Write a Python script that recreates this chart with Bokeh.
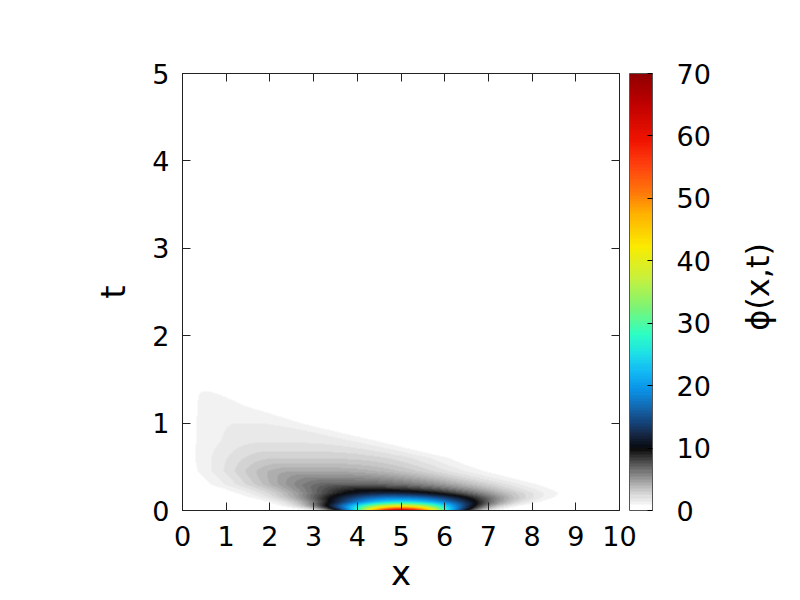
import numpy as np
from bokeh.plotting import figure
from bokeh.layouts import row
from bokeh.models import (LinearColorMapper, ColorBar, FixedTicker, Range1d,
                          LinearAxis, Label)
from bokeh.embed import file_html
from bokeh.resources import INLINE

# ---- values: profile of phi(x,t) along rows of t ----
t_rows      = [0.0, 0.05, 0.10, 0.15, 0.20, 0.25, 0.30, 0.45, 0.60, 0.80, 1.00, 1.20, 1.35, 1.50, 1.70, 5.0]
peak        = [68.0, 42.0, 25.0, 17.5, 12.0, 9.0, 7.0, 4.5, 3.0, 1.9, 1.5, 1.15, 1.02, 0.85, 0.6, 0.01]
center      = [5.0, 5.0, 5.0, 4.9, 4.7, 4.2, 3.6, 2.6, 2.2, 1.8, 1.3, 0.8, 0.55, 0.45, 0.4, 0.4]
width_left  = [0.74, 1.0, 1.2, 1.4, 1.55, 1.55, 1.5, 1.3, 1.3, 1.32, 1.1, 0.9, 0.8, 0.8, 0.8, 0.8]
width_right = [0.76, 0.98, 1.25, 1.5, 1.75, 2.2, 2.7, 2.98, 3.2, 2.44, 1.48, 0.92, 0.8, 0.8, 0.8, 0.8]
shape_right = [2.0, 2.0, 2.0, 2.0, 2.0, 2.3, 2.66, 3.0, 4.0, 4.0, 4.0, 3.0, 2.0, 2.0, 2.0, 2.0]
wall_scale  = 0.08

x_ticks   = [0, 1, 2, 3, 4, 5, 6, 7, 8, 9, 10]
t_ticks   = [0, 1, 2, 3, 4, 5]
phi_ticks = [0, 10, 20, 30, 40, 50, 60, 70]

# ---- build the field on a grid ----
nx, nt = 437, 437
xs = (np.arange(nx) + 0.5) / nx * 10.0
ts = (np.arange(nt) + 0.5) / nt * 5.0
A  = np.exp(np.interp(ts, t_rows, np.log(peak)))[:, None]
C  = np.interp(ts, t_rows, center)[:, None]
SL = np.interp(ts, t_rows, width_left)[:, None]
SR = np.interp(ts, t_rows, width_right)[:, None]
PR = np.interp(ts, t_rows, shape_right)[:, None]
X = xs[None, :]
D = X - C
left_part = A * np.exp(-0.5 * (D / SL) ** 2)
right_part = A * np.exp(-0.5 * (np.abs(D) / SR) ** PR)
phi = np.where(D < 0, left_part, right_part) * (1.0 - np.exp(-X / wall_scale))

# ---- palette (gnuplot-like: white->gray->black->blue->cyan->green->yellow->red) ----
def hx(r, g, b):
    return "#%02x%02x%02x" % (int(round(r)), int(round(g)), int(round(b)))

anchors = [(10, (10, 14, 22)), (12, (22, 40, 70)), (14, (20, 70, 125)),
           (16, (20, 100, 170)), (19, (10, 145, 230)), (22, (18, 185, 245)),
           (25, (30, 225, 230)), (28, (45, 255, 195)), (32, (120, 245, 120)),
           (37, (200, 240, 60)), (42, (250, 235, 0)), (47, (255, 180, 0)),
           (51, (255, 115, 10)), (55, (255, 65, 15)), (59, (240, 20, 0)),
           (65, (190, 0, 0)), (70, (140, 0, 0))]
av = [a[0] for a in anchors]
palette = []
for i in range(140):
    v = i * 0.5
    if v < 1:
        palette.append("#ffffff")
    elif v < 10:
        g = 242 * (1 - ((v - 1) / 9.0) ** 1.15)
        palette.append(hx(g, g, g))
    else:
        r = np.interp(v, av, [a[1][0] for a in anchors])
        g = np.interp(v, av, [a[1][1] for a in anchors])
        b = np.interp(v, av, [a[1][2] for a in anchors])
        palette.append(hx(r, g, b))

mapper = LinearColorMapper(palette=palette, low=0, high=70)

FONT = "DejaVu Sans"
H = 598
p = figure(width=736, height=H, output_backend="svg", toolbar_location=None,
           x_range=Range1d(0, 10), y_range=Range1d(0, 5),
           min_border_left=182, min_border_right=117,
           min_border_top=73, min_border_bottom=H - 510)
p.image(image=[phi], x=0, y=0, dw=10, dh=5, color_mapper=mapper)

p.grid.visible = False
p.outline_line_color = "#222222"
p.background_fill_color = "white"
p.border_fill_color = "white"

for ax in (p.xaxis[0], p.yaxis[0]):
    ax.major_tick_in = 8
    ax.major_tick_out = 0
    ax.minor_tick_line_color = None
    ax.major_label_text_font = FONT
    ax.major_label_text_font_size = "27px"
    ax.major_label_text_color = "black"
    ax.axis_label_text_font = FONT
    ax.axis_label_text_font_size = "34px"
    ax.axis_label_text_font_style = "normal"
    ax.axis_label_text_color = "black"
    ax.axis_line_color = "#222222"
    ax.major_tick_line_color = "#222222"
p.xaxis[0].ticker = FixedTicker(ticks=x_ticks)
p.yaxis[0].ticker = FixedTicker(ticks=t_ticks)
p.xaxis[0].axis_label = "x"
p.yaxis[0].axis_label = "t"
p.xaxis[0].major_label_standoff = 15
p.yaxis[0].major_label_standoff = 13
p.xaxis[0].axis_label_standoff = 4
p.yaxis[0].axis_label_standoff = 16

top_ax = LinearAxis(ticker=FixedTicker(ticks=x_ticks), major_tick_in=8, major_tick_out=0,
                    minor_tick_line_color=None, major_label_text_font_size="0px",
                    major_label_text_color=None,
                    major_label_standoff=0, axis_line_color="#222222",
                    major_tick_line_color="#222222")
right_ax = LinearAxis(ticker=FixedTicker(ticks=t_ticks), major_tick_in=8, major_tick_out=0,
                      minor_tick_line_color=None, major_label_text_font_size="0px",
                      major_label_text_color=None,
                      major_label_standoff=0, axis_line_color="#222222",
                      major_tick_line_color="#222222")
# invisible 10px spacer that keeps the colour bar off the frame
spacer_ax = LinearAxis(ticker=FixedTicker(ticks=[0]), major_tick_in=0, major_tick_out=10,
                       minor_tick_in=0, minor_tick_out=0,
                       minor_tick_line_color=None, major_tick_line_color="white",
                       major_tick_line_alpha=0.0,
                       major_label_text_font_size="0px", major_label_text_color=None,
                       major_label_standoff=0, axis_line_color=None)
p.add_layout(top_ax, "above")
p.add_layout(right_ax, "right")
p.add_layout(spacer_ax, "right")

cb = ColorBar(color_mapper=mapper, ticker=FixedTicker(ticks=phi_ticks), width=23,
              margin=0, padding=0, label_standoff=24,
              major_label_text_font=FONT, major_label_text_font_size="27px",
              major_label_text_color="black",
              major_tick_in=5, major_tick_out=0, major_tick_line_color="black",
              minor_tick_line_color=None, bar_line_color="#555555",
              border_line_color=None, background_fill_color=None)
p.add_layout(cb, "right")

# narrow companion panel holding the colour-bar title
q = figure(width=48, height=H, output_backend="svg", toolbar_location=None,
           x_range=Range1d(0, 1), y_range=Range1d(0, H),
           x_axis_location=None, y_axis_location=None, min_border=0)
q.grid.visible = False
q.outline_line_color = None
q.background_fill_color = "white"
q.border_fill_color = "white"
lab = Label(x=21, y=H - 292, x_units="screen", y_units="data", text="\u03d5(x,t)",
            angle=np.pi / 2, text_align="center",
            text_baseline="middle", text_font=FONT, text_font_size="32px",
            text_color="black")
q.add_layout(lab)

layout = row(p, q, spacing=0)
open("out.html", "w").write(file_html(layout, INLINE))
